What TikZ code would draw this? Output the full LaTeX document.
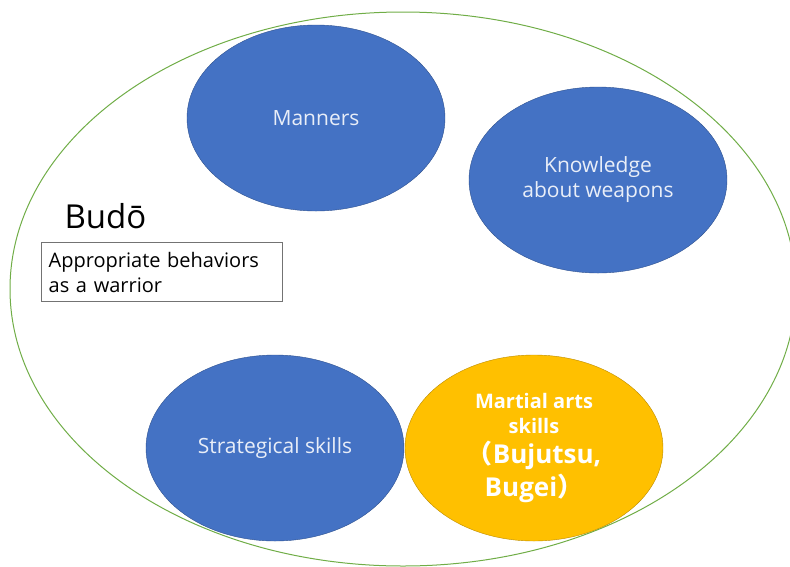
\documentclass[tikz,border=0pt]{standalone}
\usepackage{fontspec}
\setmainfont{Open Sans}
\newfontfamily\cjk{Noto Sans CJK JP}
\usetikzlibrary{positioning,shapes.geometric}
\definecolor{ballblue}{HTML}{4472C4}
\definecolor{balledge}{HTML}{2F528F}
\definecolor{ballgold}{HTML}{FFC000}
\definecolor{goldedge}{HTML}{BC8C00}
\definecolor{budogreen}{HTML}{70AD47}
\tikzset{ball/.style={ellipse, draw=balledge, fill=ballblue, text=white!88!ballblue, minimum width=258pt, minimum height=186pt, inner sep=0pt, align=center, font=\fontsize{21}{25}\selectfont}}
\newcommand{\bigline}[1]{{\fontsize{26}{34}\selectfont #1}}

\begin{document}
\begin{tikzpicture}[x=1pt, y=-1pt]
\useasboundingbox (0,0) rectangle (790,566);
\begin{scope}
\clip (0,0) rectangle (790,566);
\draw[budogreen, line width=1pt] (403,289) ellipse [x radius=393, y radius=277];
\end{scope}
%
\node[ball] (manners) at (316,118) {Manners};
\node[ball] (weapons) at (598,180) {Knowledge\\about weapons};
\node[ball] (strategy) at (275,448) {Strategical skills};
\node[ball, fill=ballgold, draw=goldedge, text=white, font=\bfseries\fontsize{20}{25}\selectfont] (martial) at (534,448)
  {Martial arts\\skills\\[5pt]\bigline{{\cjk（}Bujutsu,}\\[4pt]\bigline{Bugei{\cjk）}}};
%
\node[anchor=west, font=\fontsize{33}{33}\selectfont] (budo) at (61,216) {Budō};
\node[draw=black!55, line width=1.3pt, anchor=north west, minimum width=241pt, minimum height=59pt,
  text width=227pt, inner xsep=7pt, align=left, font=\fontsize{20}{25}\selectfont] (behav) at (41,242)
  {Appropriate behaviors\\as a warrior};
\end{tikzpicture}
\end{document}
